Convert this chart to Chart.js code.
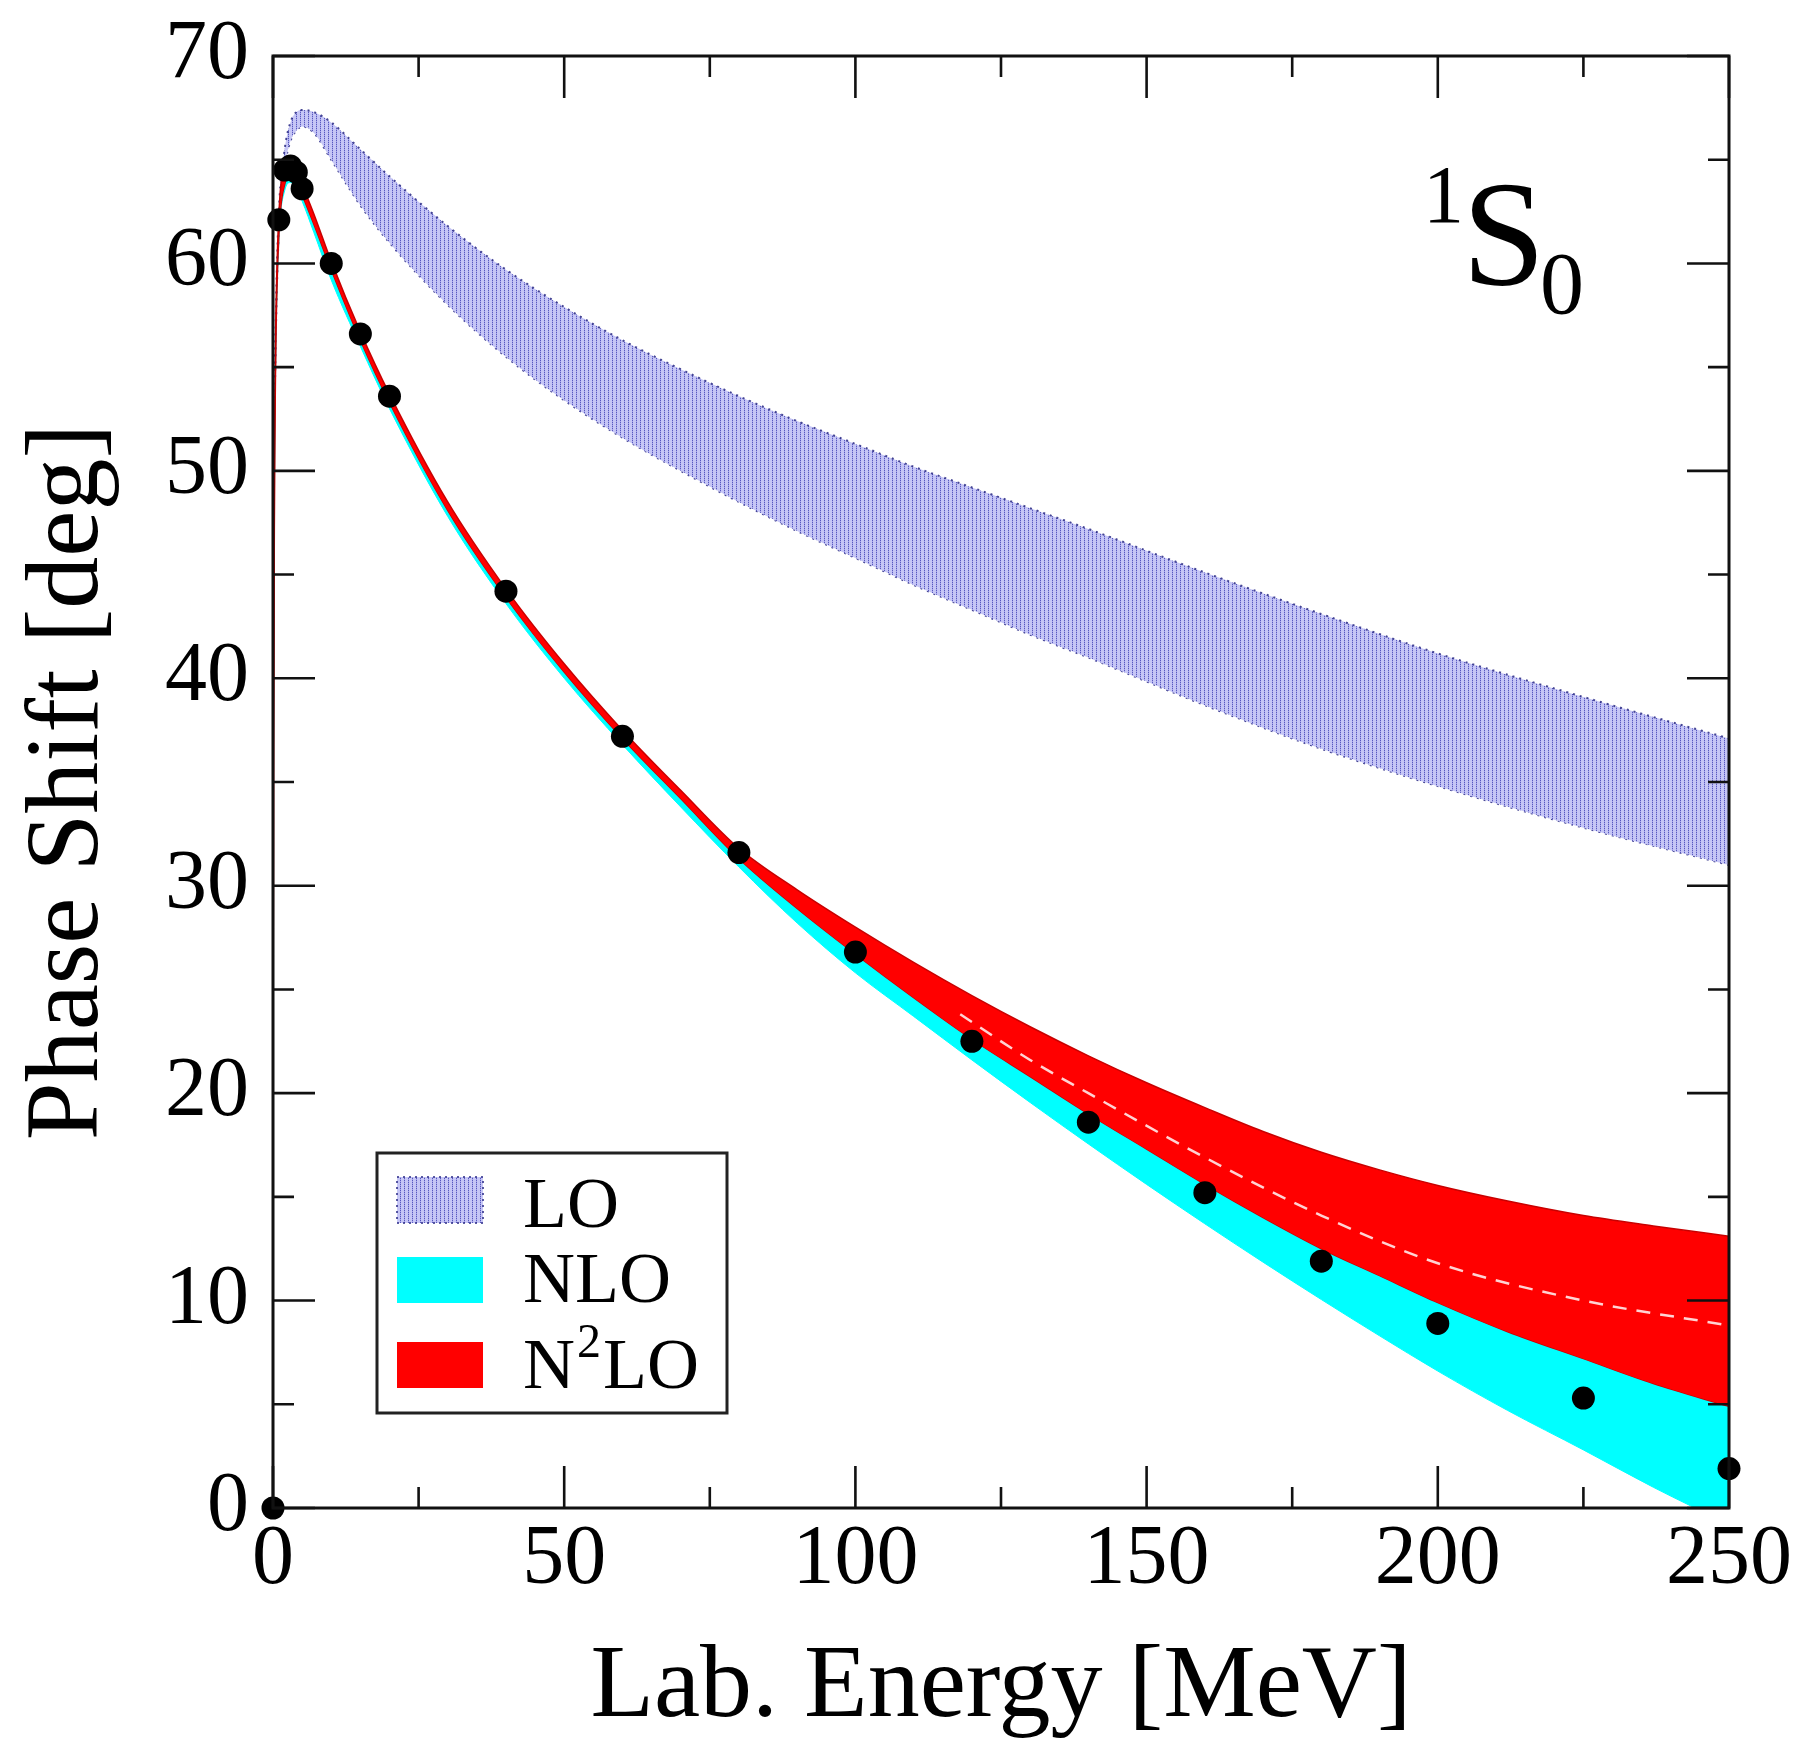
<!DOCTYPE html>
<html>
<head>
<meta charset="utf-8">
<script src="https://cdn.jsdelivr.net/npm/chart.js@4.4.1/dist/chart.umd.min.js"></script>
<style>
  html, body { margin: 0; padding: 0; background: #fff; }
  #kutu { width: 1797px; height: 1743px; }
</style>
</head>
<body>
<div id="kutu"><canvas id="grafik" width="1797" height="1743"></canvas></div>
<script>
// 1S0 faz kayması: LO / NLO / N2LO bantları ve PWA noktaları
const yaziTipi = '"Liberation Serif", "Times New Roman", Times, serif';

const xTicks = [0, 50, 100, 150, 200, 250];
const yTicks = [0, 10, 20, 30, 40, 50, 60, 70];

// siyah noktalar
const dataEnergy = [0, 1, 2, 3, 4, 5, 10, 15, 20, 40, 60, 80, 100, 120, 140, 160, 180, 200, 225, 250];
const dataPhase  = [0, 62.1, 64.5, 64.7, 64.4, 63.6, 60.0, 56.6, 53.6, 44.2, 37.2, 31.6, 26.8, 22.5, 18.6, 15.2, 11.9, 8.9, 5.3, 1.9];

// LO bandı
const loEnergy = [0.3, 0.6, 1, 2, 3, 4, 5, 7, 10, 15, 20, 30, 40, 50, 60, 70, 80, 90, 100, 110, 120, 130, 140, 160, 180, 200, 225, 250];
const loUpper  = [54.5, 59, 62.5, 65.5, 66.8, 67.3, 67.4, 67.3, 66.8, 65.5, 64.2, 61.8, 59.7, 57.9, 56.3, 54.9, 53.6, 52.4, 51.3, 50.2, 49.2, 48.2, 47.2, 45.1, 43.1, 41.2, 39.1, 37.1];
const loLower  = [53.5, 58, 61.5, 64.6, 65.9, 66.4, 66.6, 66.3, 65.0, 62.8, 61.0, 58.0, 55.5, 53.4, 51.6, 50.0, 48.5, 47.1, 45.8, 44.5, 43.3, 42.1, 41.0, 38.7, 36.6, 34.8, 32.8, 31.0];

// NLO ve N2LO bantları (ortak enerji ızgarası)
const bandEnergy = [0, 0.02, 0.1, 0.3, 0.5, 1, 2, 3, 4, 5, 7, 10, 15, 20, 30, 40, 50, 60, 70, 80, 90, 100, 110, 120, 130, 140, 150, 160, 170, 180, 190, 200, 212, 225, 237, 250];
const n2loUpper  = [0, 20.5, 38.6, 52.3, 57.4, 62.3, 64.6, 64.9, 64.5, 63.8, 62.4, 60.1, 56.7, 53.7, 48.5, 44.3, 40.7, 37.5, 34.6, 31.8, 29.8, 28.0, 26.3, 24.7, 23.2, 21.8, 20.5, 19.3, 18.15, 17.15, 16.3, 15.55, 14.8, 14.1, 13.6, 13.1];
const n2loLower  = [0, 19.5, 37.6, 51.3, 56.4, 61.3, 63.8, 64.2, 63.9, 63.3, 61.9, 59.7, 56.3, 53.3, 48.1, 43.9, 40.3, 37.1, 34.2, 31.3, 28.9, 26.7, 24.6, 22.6, 20.8, 19.0, 17.3, 15.6, 14.0, 12.5, 11.2, 9.9, 8.5, 7.2, 6.0, 4.9];
const nloUpper   = [0, 20, 38, 51.8, 57, 62, 64.3, 64.6, 64.2, 63.5, 62.1, 59.9, 56.5, 53.5, 48.3, 44.1, 40.5, 37.3, 34.4, 31.5, 29.0, 26.9, 24.9, 23.0, 21.2, 19.5, 17.9, 16.3, 14.8, 13.3, 12.0, 10.7, 9.4, 8.1, 6.9, 5.8];
const nloLower   = [0, 19, 37, 50.8, 56, 61, 63.5, 63.9, 63.6, 63.0, 61.5, 59.2, 56.0, 53.0, 47.8, 43.6, 40.0, 36.8, 33.8, 30.9, 28.2, 25.8, 23.7, 21.6, 19.55, 17.55, 15.6, 13.7, 11.85, 10.05, 8.3, 6.6, 4.7, 2.8, 1.0, -0.8];

// bandın içindeki kesikli çizgi
const dashEnergy = [118, 130, 140, 160, 180, 200, 225, 250];
const dashPhase  = [23.8, 21.6, 20.0, 16.9, 14.1, 11.8, 10.0, 8.8];

const noktalar = (xs, ys) => xs.map((e, i) => ({ x: e, y: ys[i] }));

function taramaDeseni() {
    const c = document.createElement('canvas');
    c.width = 4; c.height = 4;
    const g = c.getContext('2d');
    g.fillStyle = 'rgb(198,198,246)';
    g.fillRect(0, 0, 4, 4);
    g.fillStyle = 'rgb(165,165,232)';
    g.fillRect(0, 0, 1, 4);
    g.fillStyle = 'rgb(88,88,192)';
    g.fillRect(0, 0, 1, 1);
    g.fillRect(0, 2, 1, 1);
    return g.createPattern(c, 'repeat');
}
const desen = taramaDeseni();

// çerçeve ve içe dönük tik işaretleri
const cerceve = {
    id: 'cerceve',
    afterDatasetsDraw(chart) {
        const { ctx, chartArea: a, scales: { x, y } } = chart;
        ctx.save();
        ctx.strokeStyle = '#111';
        ctx.lineWidth = 3;
        ctx.strokeRect(a.left, a.top, a.right - a.left, a.bottom - a.top);
        ctx.lineWidth = 2.6;
        ctx.beginPath();
        for (let v = 0; v <= 250; v += 25) {
            const len = v % 50 === 0 ? 42 : 21;
            const px = x.getPixelForValue(v);
            ctx.moveTo(px, a.bottom); ctx.lineTo(px, a.bottom - len);
            ctx.moveTo(px, a.top); ctx.lineTo(px, a.top + len);
        }
        for (let v = 0; v <= 70; v += 5) {
            const len = v % 10 === 0 ? 42 : 21;
            const py = y.getPixelForValue(v);
            ctx.moveTo(a.left, py); ctx.lineTo(a.left + len, py);
            ctx.moveTo(a.right, py); ctx.lineTo(a.right - len, py);
        }
        ctx.stroke();
        ctx.restore();
    },
    afterDraw(chart) {
        const { ctx } = chart;
        ctx.save();
        // 1S0 etiketi
        ctx.fillStyle = '#000';
        ctx.textBaseline = 'alphabetic';
        ctx.font = '82px ' + yaziTipi;
        ctx.fillText('1', 1423, 222);
        ctx.font = '150px ' + yaziTipi;
        ctx.fillText('S', 1462, 285);
        ctx.font = '88px ' + yaziTipi;
        ctx.fillText('0', 1540, 313);

        // lejant
        ctx.strokeStyle = '#222';
        ctx.lineWidth = 3;
        ctx.strokeRect(377, 1153, 350, 260);
        ctx.fillStyle = desen;
        ctx.fillRect(397, 1177, 86, 46);
        ctx.setLineDash([2, 4]);
        ctx.strokeStyle = 'rgba(50,50,140,0.8)';
        ctx.lineWidth = 2;
        ctx.strokeRect(397, 1177, 86, 46);
        ctx.setLineDash([]);
        ctx.fillStyle = '#00ffff';
        ctx.fillRect(397, 1257, 86, 46);
        ctx.fillStyle = '#ff0000';
        ctx.fillRect(397, 1342, 86, 46);

        ctx.fillStyle = '#000';
        ctx.font = '72px ' + yaziTipi;
        ctx.fillText('LO', 523, 1227);
        ctx.fillText('NLO', 523, 1302);
        ctx.fillText('N', 523, 1388);
        const nW = ctx.measureText('N').width;
        ctx.font = '48px ' + yaziTipi;
        ctx.fillText('2', 523 + nW + 2, 1357);
        const iW = ctx.measureText('2').width;
        ctx.font = '72px ' + yaziTipi;
        ctx.fillText('LO', 523 + nW + iW + 4, 1388);
        ctx.restore();
    }
};

const tikFont = { family: yaziTipi, size: 84 };

new Chart(document.getElementById('grafik'), {
    type: 'line',
    data: {
        datasets: [
            {
                label: 'PWA',
                data: noktalar(dataEnergy, dataPhase),
                showLine: false,
                pointRadius: 11.5,
                pointBackgroundColor: '#000',
                pointBorderWidth: 0,
                clip: false,
                order: 0
            },
            {
                label: 'orta',
                data: noktalar(dashEnergy, dashPhase),
                borderColor: 'rgba(255,222,222,0.95)',
                borderWidth: 2.5,
                borderDash: [14, 10],
                pointRadius: 0,
                cubicInterpolationMode: 'monotone',
                fill: false,
                order: 1
            },
            {
                label: 'N2LO',
                data: noktalar(bandEnergy, n2loUpper),
                borderColor: '#c80000',
                borderWidth: 1.5,
                backgroundColor: '#ff0000',
                pointRadius: 0,
                cubicInterpolationMode: 'monotone',
                fill: '+1',
                clip: 0,
                order: 2
            },
            {
                label: 'N2LO alt',
                data: noktalar(bandEnergy, n2loLower),
                borderColor: '#c80000',
                borderWidth: 1.5,
                pointRadius: 0,
                cubicInterpolationMode: 'monotone',
                fill: false,
                clip: 0,
                order: 2
            },
            {
                label: 'NLO',
                data: noktalar(bandEnergy, nloUpper),
                borderColor: '#00ffff',
                borderWidth: 1,
                backgroundColor: '#00ffff',
                pointRadius: 0,
                cubicInterpolationMode: 'monotone',
                fill: '+1',
                clip: 0,
                order: 3
            },
            {
                label: 'NLO alt',
                data: noktalar(bandEnergy, nloLower),
                borderColor: '#00ffff',
                borderWidth: 1,
                pointRadius: 0,
                cubicInterpolationMode: 'monotone',
                fill: false,
                clip: 0,
                order: 3
            },
            {
                label: 'LO',
                data: noktalar(loEnergy, loUpper),
                borderColor: 'rgba(40,40,130,0.85)',
                borderWidth: 2,
                borderDash: [2, 5],
                backgroundColor: desen,
                pointRadius: 0,
                cubicInterpolationMode: 'monotone',
                fill: '+1',
                clip: 0,
                order: 4
            },
            {
                label: 'LO alt',
                data: noktalar(loEnergy, loLower),
                borderColor: 'rgba(40,40,130,0.85)',
                borderWidth: 2,
                borderDash: [2, 5],
                pointRadius: 0,
                cubicInterpolationMode: 'monotone',
                fill: false,
                clip: 0,
                order: 4
            }
        ]
    },
    options: {
        responsive: false,
        animation: false,
        devicePixelRatio: 1,
        layout: { padding: { top: 56, right: 68, left: 0, bottom: 0 } },
        plugins: { legend: { display: false }, tooltip: { enabled: false } },
        scales: {
            x: {
                type: 'linear',
                min: 0,
                max: 250,
                afterFit: s => { s.height = 235; s.paddingLeft = 0; s.paddingRight = 0; },
                afterBuildTicks: s => { s.ticks = xTicks.map(v => ({ value: v })); },
                grid: { display: false, drawTicks: false },
                border: { display: false },
                ticks: { padding: 3, color: '#000', font: tikFont, maxRotation: 0, autoSkip: false },
                title: {
                    display: true,
                    text: 'Lab. Energy [MeV]',
                    color: '#000',
                    font: { family: yaziTipi, size: 104, lineHeight: 1 },
                    padding: { top: 0, bottom: 2 }
                }
            },
            y: {
                type: 'linear',
                min: 0,
                max: 70,
                afterFit: s => { s.width = 273; s.paddingTop = 0; s.paddingBottom = 0; },
                afterBuildTicks: s => { s.ticks = yTicks.map(v => ({ value: v })); },
                grid: { display: false, drawTicks: false },
                border: { display: false },
                ticks: { padding: 24, color: '#000', font: tikFont, autoSkip: false },
                title: {
                    display: true,
                    text: 'Phase Shift [deg]',
                    color: '#000',
                    font: { family: yaziTipi, size: 104, lineHeight: 1 },
                    padding: { top: 18, bottom: 0 }
                }
            }
        }
    },
    plugins: [cerceve]
});
</script>
</body>
</html>
